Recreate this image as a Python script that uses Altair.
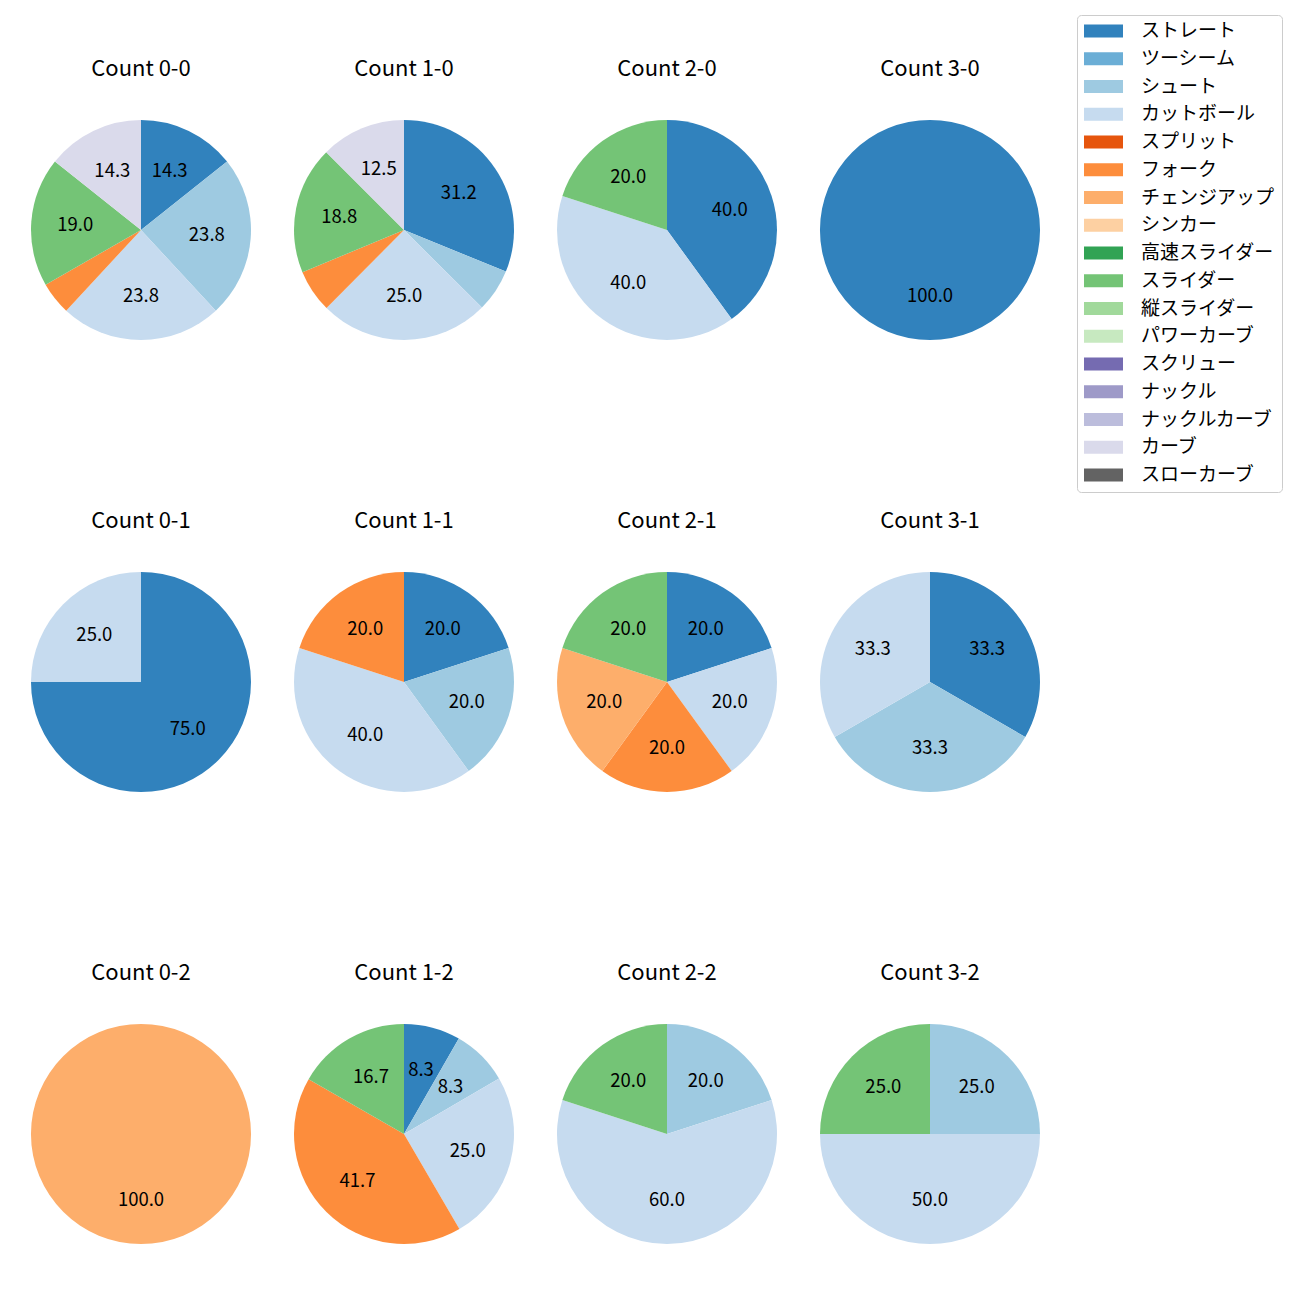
import altair as alt
import pandas as pd

FONT = "Noto Sans CJK JP"

pitch_types = ["ストレート", "ツーシーム", "シュート", "カットボール", "スプリット", "フォーク",
               "チェンジアップ", "シンカー", "高速スライダー", "スライダー", "縦スライダー",
               "パワーカーブ", "スクリュー", "ナックル", "ナックルカーブ", "カーブ", "スローカーブ"]
colors = ["#3182bd", "#6baed6", "#9ecae1", "#c6dbef", "#e6550d", "#fd8d3c", "#fdae6b",
          "#fdd0a2", "#31a354", "#74c476", "#a1d99b", "#c7e9c0", "#756bb1", "#9e9ac8",
          "#bcbddc", "#dadaeb", "#636363"]

panel_titles = ["Count 0-0", "Count 1-0", "Count 2-0", "Count 3-0",
                "Count 0-1", "Count 1-1", "Count 2-1", "Count 3-1",
                "Count 0-2", "Count 1-2", "Count 2-2", "Count 3-2"]

panel_pitches = [
    ["ストレート", "シュート", "カットボール", "フォーク", "スライダー", "カーブ"],
    ["ストレート", "シュート", "カットボール", "フォーク", "スライダー", "カーブ"],
    ["ストレート", "カットボール", "スライダー"],
    ["ストレート"],
    ["ストレート", "カットボール"],
    ["ストレート", "シュート", "カットボール", "フォーク"],
    ["ストレート", "カットボール", "フォーク", "チェンジアップ", "スライダー"],
    ["ストレート", "シュート", "カットボール"],
    ["チェンジアップ"],
    ["ストレート", "シュート", "カットボール", "フォーク", "スライダー"],
    ["シュート", "カットボール", "スライダー"],
    ["シュート", "カットボール", "スライダー"],
]
panel_values = [
    [14.3, 23.8, 23.8, 4.8, 19.0, 14.3],
    [31.2, 6.3, 25.0, 6.3, 18.8, 12.5],
    [40.0, 40.0, 20.0],
    [100.0],
    [75.0, 25.0],
    [20.0, 20.0, 40.0, 20.0],
    [20.0, 20.0, 20.0, 20.0, 20.0],
    [33.3, 33.3, 33.3],
    [100.0],
    [8.3, 8.3, 25.0, 41.7, 16.7],
    [20.0, 60.0, 20.0],
    [25.0, 50.0, 25.0],
]

rows = []
for title, pitches, vals in zip(panel_titles, panel_pitches, panel_values):
    for p, v in zip(pitches, vals):
        rows.append({"panel": title, "pitch": p, "idx": pitch_types.index(p), "value": v})
df = pd.DataFrame(rows)

CX, CY, R = 133, 222, 110

color_enc = alt.Color(
    "pitch:N",
    scale=alt.Scale(domain=pitch_types, range=colors),
    legend=alt.Legend(
        orient="none", legendX=1069, legendY=7, title=None,
        symbolType="M-1,-0.33H1V0.33H-1Z", symbolSize=1521, symbolStrokeWidth=0,
        symbolOpacity=1, clipHeight=18, rowPadding=8.75,
        labelFont=FONT, labelFontSize=19, labelColor="black", labelOffset=18,
        labelLimit=400,
        strokeColor="#cccccc", cornerRadius=4, padding=7, fillColor="white",
    ),
)


def panel(title, height):
    base = alt.Chart(df).transform_filter(alt.datum.panel == title)
    arc = base.mark_arc(radius=R).encode(
        theta=alt.Theta("value:Q", stack=True),
        order=alt.Order("idx:Q"),
        color=color_enc,
        x=alt.value(CX), y=alt.value(CY),
    )
    txt = base.transform_calculate(
        label="datum.value >= 7 ? format(datum.value, '.1f') : ''"
    ).mark_text(radius=0.6 * R, font=FONT, fontSize=18.5, color="black").encode(
        theta=alt.Theta("value:Q", stack=True),
        order=alt.Order("idx:Q"),
        text="label:N",
        x=alt.value(CX), y=alt.value(CY),
    )
    ttl = alt.Chart(pd.DataFrame({"t": [title]})).mark_text(
        font=FONT, fontSize=22, color="black"
    ).encode(text="t:N", x=alt.value(CX), y=alt.value(CY - 161))
    return alt.layer(arc, txt, ttl).properties(width=263, height=height)


row_charts = []
for r in range(3):
    h = 452 if r < 2 else 300
    row_charts.append(
        alt.hconcat(*[panel(panel_titles[r * 4 + c], h) for c in range(4)], spacing=0)
    )

chart = alt.vconcat(*row_charts, spacing=0).properties(
    padding={"left": 0, "top": 0, "right": 5, "bottom": 5}
).configure_view(stroke=None)

chart.save("out.html", embed_options={"renderer": "svg", "actions": False})
